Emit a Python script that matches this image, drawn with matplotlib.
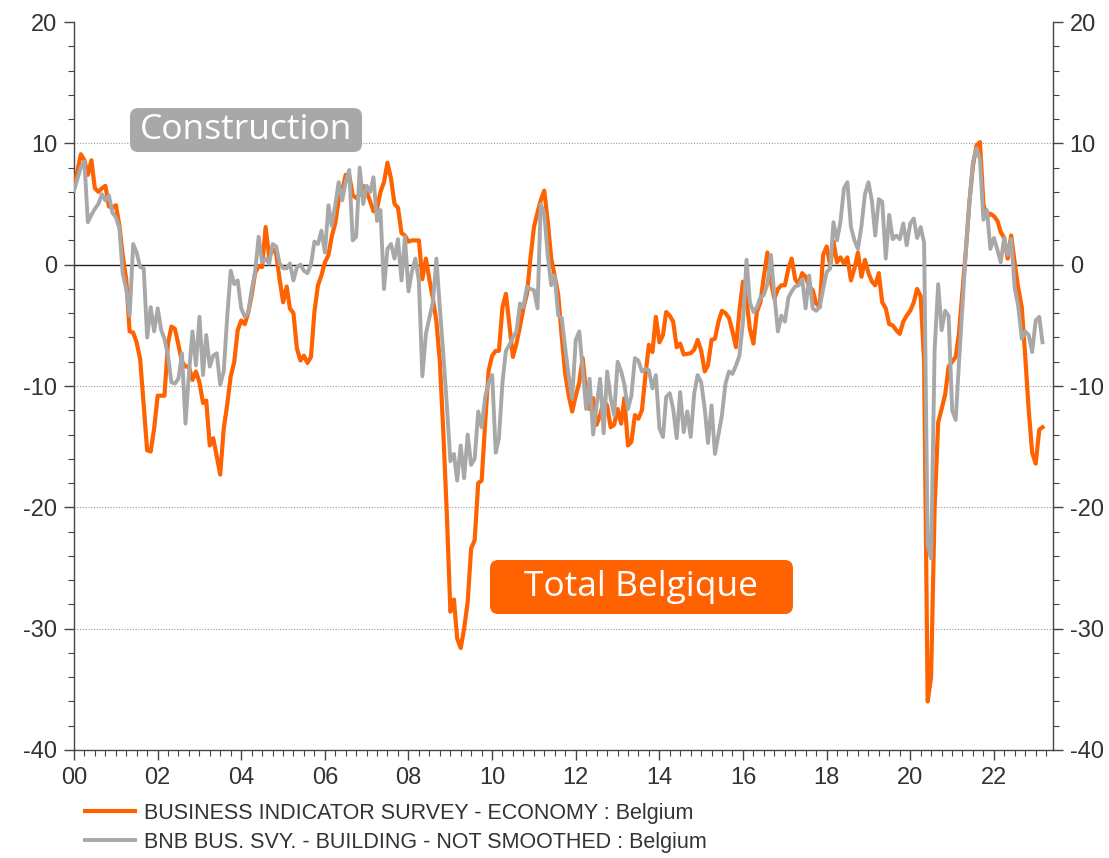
import matplotlib
matplotlib.use('Agg')
import matplotlib.pyplot as plt
import matplotlib.dates as mdates
import matplotlib.ticker as mticker
from matplotlib.patches import FancyBboxPatch
import pandas as pd
from datetime import datetime

# monthly values, Jan 2000 onwards
economy = [
    6.4, 7.8, 9.1, 8.6, 7.4, 8.6, 6.3, 6.0, 6.3, 6.5, 4.8, 4.7,
    4.9, 3.2, 0.8, -1.2, -5.5, -5.6, -6.4, -7.8, -11.6, -15.3, -15.4, -13.5,
    -10.8, -10.8, -10.8, -6.5, -5.1, -5.3, -6.6, -8.0, -8.4, -8.4, -9.5, -8.8,
    -9.7, -11.4, -11.2, -14.9, -14.3, -15.8, -17.3, -13.5, -11.5, -9.2, -8.0, -5.4,
    -4.6, -4.9, -4.0, -2.5, -0.7, -0.1, -0.2, 3.1, 0.6, 1.3, 0.9, -1.2,
    -3.1, -1.8, -3.6, -4.0, -6.9, -7.9, -7.5, -8.1, -7.6, -3.9, -1.7, -0.9,
    0.2, 0.8, 2.3, 3.4, 5.3, 6.1, 7.4, 7.4, 5.7, 5.5, 5.8, 6.5,
    6.0, 5.2, 4.4, 4.6, 6.0, 6.8, 8.4, 7.1, 5.0, 4.7, 2.6, 2.4,
    1.9, 2.0, 2.0, 2.0, -1.2, 0.5, -1.2, -2.8, -4.7, -8.0, -14.0, -20.6,
    -28.6, -27.6, -30.8, -31.6, -30.0, -27.8, -23.4, -22.7, -18.0, -17.8, -13.0, -8.7,
    -7.5, -7.1, -7.1, -3.5, -2.4, -5.0, -7.6, -6.5, -5.1, -3.6, -2.4, 0.5,
    3.1, 4.3, 5.3, 6.1, 3.6, 0.5, -0.9, -2.5, -6.0, -9.0, -10.8, -12.1,
    -10.8, -9.7, -7.7, -10.5, -11.9, -11.0, -13.2, -12.4, -11.2, -11.6, -13.4, -13.2,
    -11.9, -13.1, -11.0, -14.9, -14.6, -12.4, -12.7, -12.0, -9.1, -6.6, -7.2, -4.3,
    -6.4, -5.8, -3.9, -4.2, -4.7, -6.8, -6.5, -7.4, -7.35, -7.3, -7.0, -6.2,
    -7.1, -8.8, -8.3, -6.2, -6.1, -4.7, -3.8, -4.0, -4.4, -5.5, -6.8, -3.8,
    -1.4, -2.9, -5.3, -6.5, -3.9, -3.1, -1.0, 1.0, -1.4, -2.8, -2.0, -1.7,
    -1.7, -0.3, 0.5, -1.2, -1.6, -0.7, -1.0, -1.8, -2.1, -3.2, -3.5, 0.8,
    1.5, -0.1, 1.9, 0.2, 0.6, 0.1, 0.6, -1.3, -0.3, 1.0, -1.0, 0.4,
    -0.7, -1.4, -1.7, -0.7, -3.1, -3.6, -4.9, -5.0, -5.4, -5.7, -4.7, -4.2,
    -3.8, -3.1, -2.0, -2.6, -8.0, -36.0, -34.0, -20.0, -13.0, -11.9, -10.7, -8.4,
    -8.0, -7.6, -5.7, -2.2, 1.2, 5.2, 8.1, 9.8, 10.1, 5.0, 3.9, 4.2,
    4.0, 3.6, 2.7, 2.2, 0.5, 2.4, 0.2, -1.9, -3.5, -7.5, -12.0, -15.5,
    -16.4, -13.6, -13.4,
]

building = [
    6.1, 7.1, 8.0, 8.5, 3.5, 4.1, 4.6, 5.0, 5.8, 5.3, 5.7, 4.3,
    3.9, 3.0, -0.7, -2.0, -4.2, 1.7, 1.0, -0.2, -0.3, -6.0, -3.5, -5.5,
    -3.6, -5.4, -6.1, -7.5, -9.7, -9.8, -9.4, -7.3, -13.1, -9.0, -5.5, -8.3,
    -4.3, -9.1, -5.8, -8.4, -7.5, -7.3, -9.9, -8.8, -4.2, -0.5, -1.6, -1.3,
    -3.6, -4.3, -4.0, -2.1, -0.6, 2.3, 0.2, 0.5, 0.1, 1.7, 1.5, 0.1,
    -0.3, -0.3, 0.1, -1.3, -0.2, 0.0, -0.5, -0.7, 0.0, 1.9, 1.7, 2.8,
    1.0, 4.9, 3.2, 4.9, 6.8, 5.3, 6.8, 7.8, 2.0, 2.3, 8.0, 5.0,
    6.5, 6.0, 7.2, 3.6, 4.5, -2.0, 1.3, 1.7, 0.5, 2.1, -1.3, 2.3,
    -2.2, -0.5, 0.5, -1.4, -9.2, -5.7, -4.4, -3.1, 0.5, -3.6, -7.5, -11.6,
    -16.2, -15.6, -17.8, -14.9, -17.6, -14.0, -16.5, -16.0, -12.1, -13.4, -10.9, -9.7,
    -9.1, -15.5, -14.3, -9.7, -7.1, -6.6, -6.0, -5.5, -3.2, -3.5, -1.8, -2.0,
    -2.1, -3.6, 5.0, 4.2, 0.8, -1.7, -0.9, -4.2, -4.4, -6.9, -9.2, -11.0,
    -6.2, -5.5, -8.6, -11.9, -9.4, -14.0, -11.6, -9.4, -13.9, -8.8, -11.0, -12.4,
    -8.0, -8.8, -9.9, -11.9, -10.8, -7.7, -7.9, -8.8, -8.6, -8.7, -10.2, -9.1,
    -13.5, -14.2, -10.9, -10.6, -11.9, -14.3, -10.5, -13.8, -12.1, -14.2, -10.6, -9.1,
    -9.7, -11.9, -14.7, -11.6, -15.6, -14.0, -12.4, -9.8, -8.8, -9.0, -8.3, -7.5,
    -4.7, 0.4, -3.1, -3.9, -3.5, -2.7, -2.5, -1.6, 0.8, -2.5, -5.5, -4.2,
    -4.7, -2.7, -2.2, -1.8, -1.7, -1.2, -3.6, -0.9, -3.6, -3.8, -3.5, -2.0,
    -0.6, -0.3, 3.5, 2.0, 3.5, 6.3, 6.8, 3.1, 2.0, 1.3, 3.2, 5.8,
    6.8, 5.2, 2.4, 5.4, 5.2, 0.5, 4.1, 2.1, 2.4, 2.1, 3.4, 1.6,
    3.4, 3.8, 2.2, 3.1, 1.8, -23.1, -24.2, -7.0, -1.6, -5.4, -3.8, -4.2,
    -12.0, -12.8, -8.2, -3.4, 1.2, 5.1, 8.4, 9.6, 8.7, 3.7, 4.5, 1.3,
    2.2, 1.2, 0.2, 2.2, 0.8, 2.1, -1.9, -3.4, -6.1, -5.5, -5.8, -7.2,
    -4.6, -4.3, -6.4,
]

label_economy = 'BUSINESS INDICATOR SURVEY - ECONOMY : Belgium'
label_building = 'BNB BUS. SVY. - BUILDING - NOT SMOOTHED : Belgium'

dates_e = pd.date_range('2000-01-01', periods=len(economy), freq='MS')
dates_b = pd.date_range('2000-01-01', periods=len(building), freq='MS')

ORANGE = '#FF6200'
GREY = '#A8A8A8'
TXT = '#333333'

plt.rcParams['font.family'] = ['Liberation Sans', 'DejaVu Sans']
plt.rcParams['axes.unicode_minus'] = False

fig = plt.figure(figsize=(11.09, 8.58), dpi=100)
ax = fig.add_axes([74 / 1109, 1 - 750 / 858, 979 / 1109, 728 / 858])

for v in (-30, -20, -10, 10):
    ax.axhline(v, color='#999999', lw=0.8, ls=(0, (1, 1.5)), zorder=1)
ax.axhline(0, color='#222222', lw=1.0, zorder=2)

l1, = ax.plot(dates_e, economy, color=ORANGE, lw=3.0, label=label_economy, zorder=3)
l2, = ax.plot(dates_b, building, color=GREY, lw=2.8, label=label_building, zorder=4)

ax.set_ylim(-40, 20)
ax.set_xlim(datetime(2000, 1, 1), datetime(2023, 6, 1))
ax.yaxis.set_major_locator(mticker.MultipleLocator(10))
ax.yaxis.set_minor_locator(mticker.MultipleLocator(2))
ax.xaxis.set_major_locator(mdates.YearLocator(2))
ax.xaxis.set_major_formatter(mdates.DateFormatter('%y'))
ax.xaxis.set_minor_locator(mdates.MonthLocator(bymonth=(1, 4, 7, 10)))

ax.tick_params(axis='y', which='both', left=True, right=True,
               labelleft=True, labelright=True, direction='out', colors='#444444')
ax.tick_params(axis='both', which='major', length=7, width=1, labelsize=17,
               labelcolor=TXT, pad=5)
ax.tick_params(axis='both', which='minor', length=4, width=0.8)
ax.tick_params(axis='x', which='both', direction='out', colors='#444444')
ax.tick_params(axis='x', labelcolor=TXT)

ax.spines['top'].set_visible(False)
for s in ('left', 'right', 'bottom'):
    ax.spines[s].set_color('#444444')
    ax.spines[s].set_linewidth(1)

# label boxes (axes fraction)
asp = 979 / 728
box_c = FancyBboxPatch((0.0572, 0.8214), 0.237, 0.0604, transform=ax.transAxes,
                       boxstyle='round,pad=0,rounding_size=0.0085', mutation_aspect=asp,
                       fc=GREY, ec='none', zorder=5)
box_t = FancyBboxPatch((0.4249, 0.1868), 0.3095, 0.0742, transform=ax.transAxes,
                       boxstyle='round,pad=0,rounding_size=0.0085', mutation_aspect=asp,
                       fc=ORANGE, ec='none', zorder=5)
ax.add_patch(box_c)
ax.add_patch(box_t)
ax.text(0.0572 + 0.237 / 2, 0.8214 + 0.0604 / 2, 'Construction', transform=ax.transAxes,
        ha='center', va='center', color='white', fontsize=25.5,
        family=['Open Sans', 'DejaVu Sans'], zorder=6)
ax.text(0.4249 + 0.3095 / 2, 0.1868 + 0.0742 / 2, 'Total Belgique', transform=ax.transAxes,
        ha='center', va='center', color='white', fontsize=25.5,
        family=['Open Sans', 'DejaVu Sans'], zorder=6)

fig.legend(handles=[l1, l2], loc='upper left', bbox_to_anchor=(85 / 1109, 1 - 803 / 858),
           frameon=False, fontsize=15.5, handlelength=2.3, handletextpad=0.45,
           labelspacing=0.35, borderaxespad=0, borderpad=0, labelcolor=TXT)

fig.savefig('out.png', dpi=100)
